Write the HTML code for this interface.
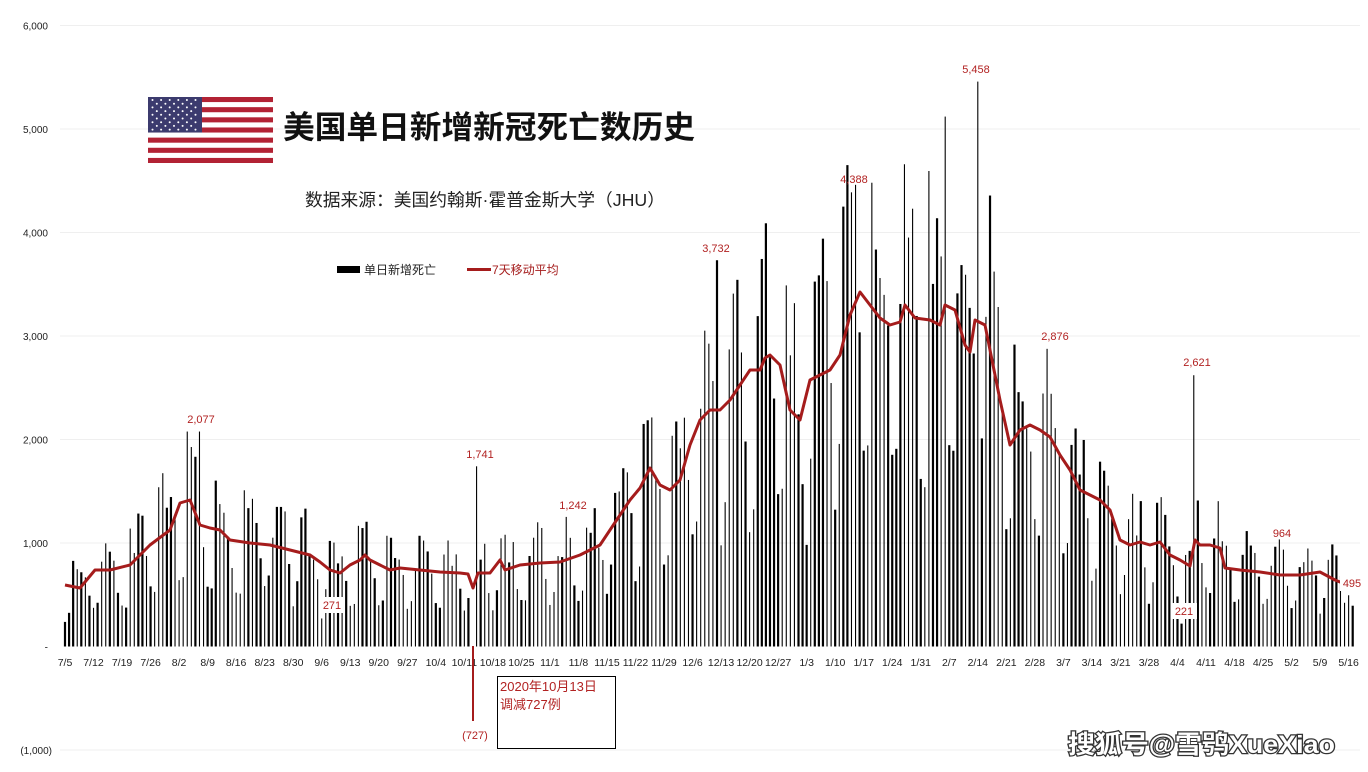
<!DOCTYPE html>
<html><head><meta charset="utf-8">
<style>
html,body{margin:0;padding:0;background:#fff;}
svg{display:block;font-family:"Liberation Sans","Noto Sans CJK SC",sans-serif;}
</style></head>
<body>
<svg id="c" width="1368" height="772" xmlns="http://www.w3.org/2000/svg">
<g id="grid" stroke="#efefef" stroke-width="1"></g>
<g id="ylab" font-size="10" fill="#222" text-anchor="end"></g>
<g id="bars" fill="#000"></g>
<path id="ma" fill="none" stroke="#a51c1c" stroke-width="3" stroke-linejoin="round"/>
<g id="xlab" font-size="10.5" fill="#222" text-anchor="middle"></g>
<g transform="translate(148,97)">
<rect width="125" height="66" fill="#fff"/>
<g fill="#b22234" id="stripes"></g>
<rect width="54" height="35.5" fill="#3c3b6e"/>
<g fill="#fff" id="stars"></g>
</g>
<text x="283" y="138" font-size="31.5" font-weight="bold" fill="#111" textLength="412" lengthAdjust="spacingAndGlyphs">美国单日新增新冠死亡数历史</text>
<text x="305" y="206" font-size="17.5" fill="#222" textLength="360" lengthAdjust="spacingAndGlyphs">数据来源：美国约翰斯·霍普金斯大学（JHU）</text>
<rect x="337" y="266" width="23" height="7" fill="#000"/>
<text x="364" y="274" font-size="12" fill="#222">单日新增死亡</text>
<line x1="467" y1="269.5" x2="491" y2="269.5" stroke="#a51c1c" stroke-width="3"/>
<text x="492" y="274" font-size="12" fill="#a51c1c">7天移动平均</text>
<rect x="320" y="597" width="25" height="16" fill="#fff"/>
<rect x="1171" y="603" width="26" height="16" fill="#fff"/>
<rect x="1340" y="575" width="22" height="16" fill="#fff"/>
<g font-size="11" fill="#b22222" text-anchor="middle">
<text x="201" y="423">2,077</text>
<text x="480" y="458">1,741</text>
<text x="716" y="252">3,732</text>
<text x="854" y="183">4,388</text>
<text x="976" y="73">5,458</text>
<text x="1055" y="340">2,876</text>
<text x="1197" y="366">2,621</text>
<text x="1282" y="537">964</text>
<text x="573" y="509">1,242</text>
<text x="332" y="609">271</text>
<text x="1184" y="615">221</text>
<text x="1352" y="587">495</text>
<text x="475" y="739">(727)</text>
</g>
<line x1="473" y1="646" x2="473" y2="721" stroke="#a51c1c" stroke-width="2"/>
<rect x="497.5" y="676.5" width="118" height="72" fill="#fff" stroke="#000" stroke-width="1"/>
<text x="500" y="691" font-size="13" fill="#b22222">2020年10月13日</text>
<text x="500" y="709" font-size="13" fill="#b22222">调减727例</text>
<text x="1068" y="753" font-size="25" fill="#fff" stroke="#333" stroke-width="2.5" paint-order="stroke" font-weight="bold" textLength="267" lengthAdjust="spacingAndGlyphs">搜狐号@雪鸮XueXiao</text>
</svg>
<script>
var NS="http://www.w3.org/2000/svg";
function el(p,t,a,txt){var e=document.createElementNS(NS,t);for(var k in a)e.setAttribute(k,a[k]);if(txt!=null)e.textContent=txt;document.getElementById(p).appendChild(e);return e;}
var y0=646.5,s=0.1035;
function Y(v){return y0-v*s;}
var labs=["6,000","5,000","4,000","3,000","2,000","1,000","-","(1,000)"];
for(var i=0;i<8;i++){var v=6000-i*1000,y=Y(v);
 if(v!==0)el("grid","line",{x1:60,x2:1360,y1:y,y2:y});
 el("ylab","text",{x:v===-1000?52:48,y:y+4},labs[i]);}
for(var i=0;i<13;i+=2)el("stripes","rect",{x:0,y:i*66/13,width:125,height:66/13});
for(var r=0;r<9;r++)for(var c=0;c<(r%2?5:6);c++)el("stars","circle",{cx:4.5+c*8.6+(r%2?4.3:0),cy:3+r*3.7,r:1});
var pts=[[65,585],[80,588],[95,570],[110,570],[130,565],[150,545],[170,530],[180,503],[190,500],[200,525],[210,528],[220,530],[230,540],[250,543],[270,545],[290,550],[310,555],[320,562],[330,570],[340,573],[350,565],[360,560],[365,555],[370,560],[380,565],[390,570],[400,568],[420,570],[440,572],[460,573],[468,574],[473,588],[478,573],[490,573],[500,560],[505,570],[520,565],[540,563],[560,562],[580,555],[600,545],[610,530],[620,515],[630,500],[640,488],[650,468],[660,485],[670,490],[680,480],[690,445],[700,420],[710,410],[720,410],[730,400],[740,385],[750,370],[760,370],[765,358],[770,355],[780,365],[790,410],[800,420],[810,380],[820,375],[830,370],[840,355],[850,315],[860,292],[870,305],[880,318],[890,325],[900,322],[905,305],[915,318],[930,320],[940,325],[945,305],[955,310],[965,345],[970,352],[975,320],[985,325],[990,350],[1000,400],[1010,445],[1020,430],[1030,425],[1040,430],[1050,437],[1060,455],[1070,470],[1080,490],[1090,495],[1100,500],[1110,510],[1120,540],[1130,545],[1140,542],[1150,545],[1160,542],[1170,555],[1180,560],[1190,566],[1195,540],[1200,545],[1210,545],[1220,548],[1225,568],[1240,570],[1260,572],[1280,575],[1300,575],[1320,572],[1335,580],[1345,584]];
var d="";pts.forEach(function(p,i){d+=(i?"L":"M")+p[0]+","+p[1];});
document.getElementById("ma").setAttribute("d",d);
function maAt(x){for(var i=1;i<pts.length;i++){if(pts[i][0]>=x){var a=pts[i-1],b=pts[i],t=(x-a[0])/(b[0]-a[0]);return (y0-(a[1]+(b[1]-a[1])*t))/s;}}return 600;}
var fac=[0.5,0.6,1.25,1.3,1.25,1.2,0.85];
var seed=11;function rnd(){seed=(seed*16807)%2147483647;return seed/2147483647;}
var px=4.075;
var special={33:2077,101:1741,100:-727,160:3732,193:4388,224:5458,216:5120,241:2876,277:2621,297:964,315:495,63:271,274:221,124:1050,191:4250,208:4230};
for(var dd=0;dd<=316;dd++){
 var x=65+dd*px,m=maAt(x);
 var v=m*fac[dd%7]*(0.8+0.4*rnd());
 if(special[dd]!=null)v=special[dd];
 var w=(rnd()<0.45)?2.2:1.1;
 if(v>=0)el("bars","rect",{x:x-w/2,y:Y(v),width:w,height:v*s});
}
var xl=["7/5","7/12","7/19","7/26","8/2","8/9","8/16","8/23","8/30","9/6","9/13","9/20","9/27","10/4","10/11","10/18","10/25","11/1","11/8","11/15","11/22","11/29","12/6","12/13","12/20","12/27","1/3","1/10","1/17","1/24","1/31","2/7","2/14","2/21","2/28","3/7","3/14","3/21","3/28","4/4","4/11","4/18","4/25","5/2","5/9","5/16"];
xl.forEach(function(t,i){el("xlab","text",{x:65+i*7*px,y:666},t);});
</script>
</body></html>
